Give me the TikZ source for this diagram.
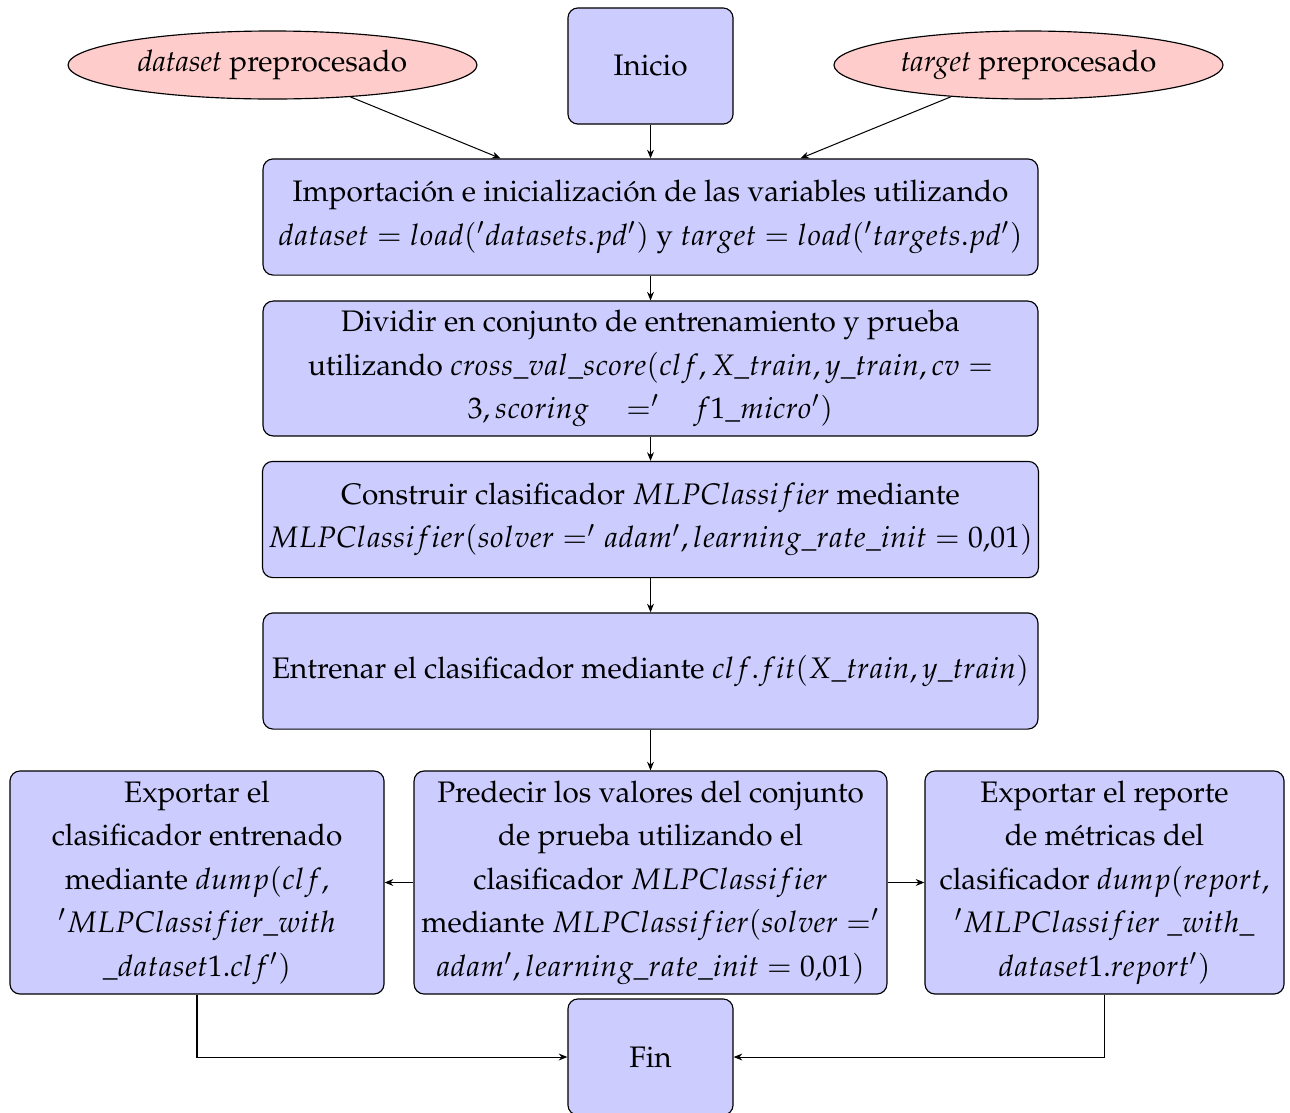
\documentclass[tikz,border=0pt]{standalone}
\usepackage[T1]{fontenc}
\usepackage{mathpazo}
\usetikzlibrary{shapes.geometric,arrows.meta,calc}

\begin{document}
\begin{tikzpicture}[x=0.347pt,y=-0.347pt,
  font=\fontsize{10.3}{15.1}\selectfont,
  proc/.style={draw, fill=blue!20, rounded corners=3.5pt, align=center, inner sep=2pt},
  data/.style={draw, fill=red!20, ellipse, inner sep=1pt},
  flow/.style={-{Stealth[length=3pt,width=2.4pt]}, line width=0.35pt}]
\useasboundingbox (0,0) rectangle (1290,1113);

% start and inputs
\node[proc, minimum width=57.3pt, minimum height=40.3pt] (ini) at (650.5,66) {Inicio};
\node[data, minimum width=141.9pt, minimum height=23.6pt] (ds) at (272.5,65) {\emph{dataset} preprocesado};
\node[data, minimum width=135pt, minimum height=23.6pt] (tg) at (1028.5,65) {\emph{target} preprocesado};

% main column
\node[proc, minimum width=268.9pt, minimum height=40.3pt] (imp) at (650.5,217)
  {Importaci\'on e inicializaci\'on de las variables utilizando\\
   $dataset = load('datasets.pd')$ y $target = load('targets.pd')$};
\node[proc, minimum width=268.9pt, minimum height=46.8pt] (div) at (650.5,368.5)
  {Dividir en conjunto de entrenamiento y prueba\\
   utilizando $cross\_val\_score(clf, X\_train, y\_train, cv =$\\
   $3, scoring\hspace{10pt} =' \hspace{9pt} f1\_micro')$};
\node[proc, minimum width=268.9pt, minimum height=40.3pt] (con) at (650.5,519.5)
  {Construir clasificador $MLPClassifier$ mediante\\
   $MLPClassifier(solver =' adam', learning\_rate\_init = 0{,}01)$};
\node[proc, minimum width=268.9pt, minimum height=40.3pt] (ent) at (650.5,671)
  {Entrenar el clasificador mediante $clf.fit(X\_train, y\_train)$};

% bottom row
\node[proc, minimum width=129.8pt, minimum height=77.4pt] (lex) at (197,882.5)
  {Exportar el\\ clasificador entrenado\\ mediante $dump(clf,$\\
   $'MLPClassifier\_with$\\ $\_dataset1.clf')$};
\node[proc, minimum width=164.1pt, minimum height=77.4pt] (pre) at (650.5,882.5)
  {Predecir los valores del conjunto\\ de prueba utilizando el\\
   clasificador $MLPClassifier$\\ mediante $MLPClassifier(solver ='$\\
   $adam', learning\_rate\_init = 0{,}01)$};
\node[proc, minimum width=124.6pt, minimum height=77.4pt] (rex) at (1104.5,882.5)
  {Exportar el reporte\\ de m\'etricas del\\ clasificador $dump(report,$\\
   $'MLPClassifier\ \_with\_$\\ $dataset1.report')$};
\node[proc, minimum width=57.3pt, minimum height=40.3pt] (fin) at (650.5,1057) {Fin};

% connectors
\draw[flow] (ini) -- (imp);
\draw[flow] (ds) -- ($(imp.north)+(-150,0)$);
\draw[flow] (tg) -- ($(imp.north)+(150,0)$);
\draw[flow] (imp) -- (div);
\draw[flow] (div) -- (con);
\draw[flow] (con) -- (ent);
\draw[flow] (ent) -- (pre);
\draw[flow] (pre) -- (lex);
\draw[flow] (pre) -- (rex);
\draw[flow] (lex.south) |- (fin.west);
\draw[flow] (rex.south) |- (fin.east);
\end{tikzpicture}
\end{document}
